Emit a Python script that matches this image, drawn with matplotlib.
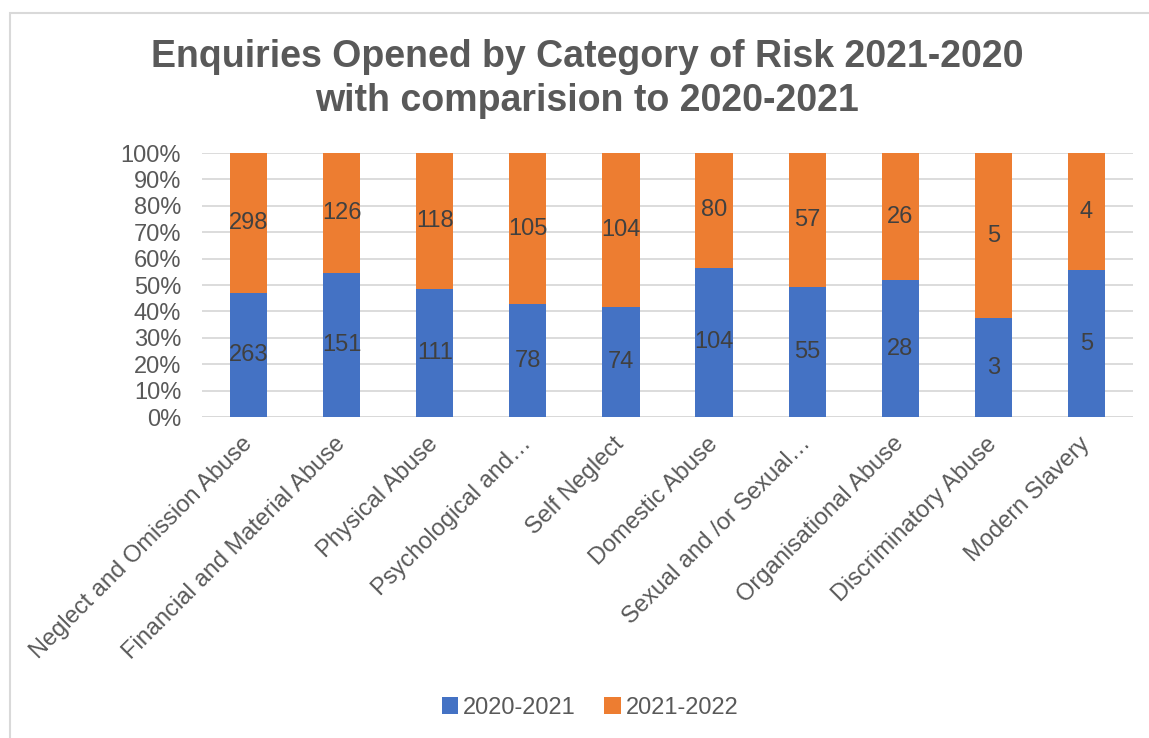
import matplotlib
matplotlib.use("Agg")
import matplotlib.pyplot as plt
from matplotlib.patches import Rectangle
import numpy as np

plt.rcParams['font.family'] = ['Liberation Sans', 'DejaVu Sans']

categories = ["Neglect and Omission Abuse", "Financial and Material Abuse", "Physical Abuse",
              "Psychological and…", "Self Neglect", "Domestic Abuse", "Sexual and /or Sexual…",
              "Organisational Abuse", "Discriminatory Abuse", "Modern Slavery"]
s2020 = [263, 151, 111, 78, 74, 104, 55, 28, 3, 5]
s2021 = [298, 126, 118, 105, 104, 80, 57, 26, 5, 4]
series_names = ["2020-2021", "2021-2022"]
yticks = [0, 10, 20, 30, 40, 50, 60, 70, 80, 90, 100]

W, H = 1149, 738
fig = plt.figure(figsize=(W / 100, H / 100), dpi=100)
ax = fig.add_axes([202 / W, 1 - 417 / H, (1133 - 202) / W, (417 - 153) / H])

a = np.array(s2020, float)
b = np.array(s2021, float)
tot = a + b
pa = a / tot * 100
pb = b / tot * 100
x = np.arange(len(categories))
blue, orange = "#4472C4", "#ED7D31"
bw = 0.4
fs = 17
b1 = ax.bar(x, pa, bw, color=blue, label=series_names[0], zorder=3)
b2 = ax.bar(x, pb, bw, bottom=pa, color=orange, label=series_names[1], zorder=3)
ax.bar_label(b1, labels=[str(v) for v in s2020], label_type='center', fontsize=fs, color="#404040")
ax.bar_label(b2, labels=[str(v) for v in s2021], label_type='center', fontsize=fs, color="#404040")

ax.set_xlim(-0.5, len(categories) - 0.5)
ax.set_ylim(0, 100)
ax.set_yticks(yticks)
ax.set_yticklabels([f"{t}%" for t in yticks], fontsize=fs, color="#595959")
ax.yaxis.grid(True, color="#D9D9D9", linewidth=1.3, zorder=0)
ax.set_axisbelow(True)
ax.set_xticks(x)
ax.set_xticklabels(categories, rotation=45, ha='right', va='center', rotation_mode='anchor',
                   fontsize=fs, color="#595959")
ax.tick_params(axis='y', length=0, pad=15)
ax.tick_params(axis='x', length=0, pad=17)
for s in ax.spines.values():
    s.set_visible(False)
ax.axhline(0, color="#D9D9D9", linewidth=1.3, zorder=1)

fig.text(587 / W, 1 - 79 / H, "Enquiries Opened by Category of Risk 2021-2020\nwith comparision to 2020-2021",
         ha='center', va='center', fontsize=27, fontweight='bold', color="#595959", linespacing=1.3)

fig.legend(handles=[b1, b2], labels=series_names, loc='center', bbox_to_anchor=(590 / W, 1 - 708 / H),
           ncol=2, frameon=False, fontsize=fs, labelcolor="#595959", handlelength=0.7,
           handleheight=0.7, handletextpad=0.2, columnspacing=1.2)

fig.add_artist(Rectangle((10 / W, -0.1), 1.2, 1 - 13 / H + 0.1, transform=fig.transFigure,
                         fill=False, edgecolor="#D9D9D9", linewidth=1.5))

fig.savefig("out.png", dpi=100, facecolor="white")
